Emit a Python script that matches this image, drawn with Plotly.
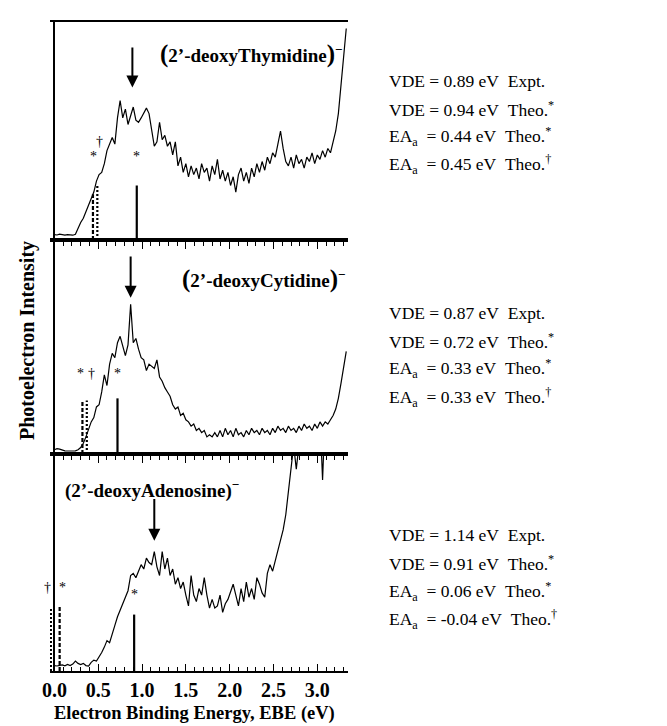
import plotly.graph_objects as go

# ---------------- data ----------------
EBE = [
    0.00, 0.03, 0.06, 0.09, 0.12, 0.15, 0.18, 0.21, 0.24, 0.27,
    0.30, 0.33, 0.36, 0.39, 0.42, 0.45, 0.48, 0.51, 0.54, 0.57,
    0.60, 0.63, 0.66, 0.69, 0.72, 0.75, 0.78, 0.81, 0.84, 0.87,
    0.90, 0.93, 0.96, 0.99, 1.02, 1.05, 1.08, 1.11, 1.14, 1.17,
    1.20, 1.23, 1.26, 1.29, 1.32, 1.35, 1.38, 1.41, 1.44, 1.47,
    1.50, 1.53, 1.56, 1.59, 1.62, 1.65, 1.68, 1.71, 1.74, 1.77,
    1.80, 1.83, 1.86, 1.89, 1.92, 1.95, 1.98, 2.01, 2.04, 2.07,
    2.10, 2.13, 2.16, 2.19, 2.22, 2.25, 2.28, 2.31, 2.34, 2.37,
    2.40, 2.43, 2.46, 2.49, 2.52, 2.55, 2.58, 2.61, 2.64, 2.67,
    2.70, 2.73, 2.76, 2.79, 2.82, 2.85, 2.88, 2.91, 2.94, 2.97,
    3.00, 3.03, 3.06, 3.09, 3.12, 3.15, 3.18, 3.21, 3.24, 3.27,
    3.30, 3.33,
]

THYMIDINE = [
    2.5, 2.3, 2.7, 2.4, 2.2, 2.5, 2.3, 2.2, 2.6, 5.5,
    8, 10, 13, 15.5, 19, 22, 27, 30, 31, 35,
    41, 44, 47, 44, 56, 64, 56, 60, 53, 57,
    61, 55, 54, 56, 58, 60.5, 58, 51, 43, 45,
    54, 46, 48, 43, 45, 39, 45, 34, 38, 31,
    35, 29, 34, 30, 33, 28, 35, 31, 33, 27,
    34, 30, 37, 28, 32, 27, 31, 25, 29, 22,
    30, 33, 27, 31, 26, 33, 29, 35, 31, 36,
    32, 38, 35, 40, 38, 44, 50, 42, 36, 34,
    38, 33, 39, 35, 37, 33, 38, 36, 40, 35,
    39, 37, 41, 38, 42, 40, 45, 50, 58, 70,
    84, 97,
]

CYTIDINE = [
    2.0, 2.5, 2.3, 1.8, 1.5, 1.4, 1.3, 1.4, 1.5, 2.0,
    3, 5, 8, 12, 15, 17, 22, 23, 29, 37,
    32, 42, 47, 45, 52, 55, 50, 46, 51, 70,
    52, 54, 49, 45, 44, 39, 42, 41, 40, 44,
    36, 34, 31, 29, 27, 23, 21, 22, 18, 19,
    16, 15, 13, 14, 11, 12, 10, 11, 8, 9,
    8, 10, 8, 11, 8, 12, 9, 11, 8, 12,
    9, 10, 8, 11, 9, 12, 10, 11, 9, 12,
    10, 11, 9, 12, 10, 13, 11, 12, 10, 13,
    11, 12, 10, 13, 11, 14, 12, 13, 11, 14,
    12, 15, 13, 15, 14, 16, 18, 21, 26, 33,
    40, 48,
]

ADENOSINE = [
    2.5, 2.3, 2.6, 2.8, 2.4, 3.0, 2.5, 3.2, 4.6, 3.5,
    3.0, 3.5, 2.5, 2.3, 4.0, 5.0, 4.6, 6.5, 8.5, 11,
    14, 13, 17.5, 21, 25, 28, 31, 34, 37, 44,
    45, 43, 46, 49, 47, 52, 50, 49, 55, 48,
    44, 55, 47, 52, 44, 47, 40, 43, 38, 41,
    35, 30, 44, 35, 32, 38, 35, 43, 35, 29,
    33, 29, 30, 35, 27, 31, 33, 37, 40, 35,
    30, 38, 32, 41, 34, 38, 33, 43, 40, 36,
    34, 45, 49, 46, 51, 55, 60, 65, 72, 83,
    95, 104, 93, 110, 115, 112, 118, 115, 120, 118,
    120, 118, 88, 120, 122, 120, 125, 122, 125, 125,
    125, 125,
]

SPECTRA = [THYMIDINE, CYTIDINE, ADENOSINE]

VDE_EXPT = [0.89, 0.87, 1.14]          # arrows
VDE_THEO = [0.94, 0.72, 0.91]          # solid sticks (*)
EA_STAR = [0.44, 0.32, 0.06]           # dashed sticks (*)
EA_DAGGER = [0.49, 0.37, -0.04]        # dotted sticks (dagger)
SOLID_H = [25, 26, 26]
DASH_H = [21, 25, 30]
DOT_H = [25, 25, 29]
ARROW_TAIL = [89, 93, 80]
ARROW_TIP = [70, 73, 60]

TEXT_VDE_EXPT = ["0.89", "0.87", "1.14"]
TEXT_VDE_THEO = ["0.94", "0.72", "0.91"]
TEXT_EA_STAR = ["0.44", "0.33", "0.06"]
TEXT_EA_DAGGER = ["0.45", "0.33", "-0.04"]

X_TICKS = [0.0, 0.5, 1.0, 1.5, 2.0, 2.5, 3.0]
X_TICK_TEXT = ["0.0", "0.5", "1.0", "1.5", "2.0", "2.5", "3.0"]

# ---------------- layout helpers ----------------
FIG_W, FIG_H = 667, 726
M_L, M_R, M_T, M_B = 42, 327, 14, 63
PW = FIG_W - M_L - M_R
PH = FIG_H - M_T - M_B


def paper_x(px):
    return (px - M_L) / PW


def paper_y(py):
    return (FIG_H - M_B - py) / PH


SERIF = "Liberation Serif"
DOMAINS = [[paper_y(232), 1.0], [paper_y(446), paper_y(232)], [0.0, paper_y(446)]]

fig = go.Figure()
annotations = []

for i in range(3):
    xa = "x" if i == 0 else f"x{i + 1}"
    ya = "y" if i == 0 else f"y{i + 1}"
    fig.add_trace(go.Scatter(x=EBE, y=SPECTRA[i], xaxis=xa, yaxis=ya, mode="lines",
                             line=dict(color="black", width=1.2), showlegend=False,
                             hoverinfo="skip"))
    fig.add_trace(go.Scatter(x=[VDE_THEO[i], VDE_THEO[i]], y=[0, SOLID_H[i]], xaxis=xa, yaxis=ya,
                             mode="lines", line=dict(color="black", width=2.2), showlegend=False))
    fig.add_trace(go.Scatter(x=[EA_STAR[i], EA_STAR[i]], y=[0, DASH_H[i]], xaxis=xa, yaxis=ya,
                             mode="lines", line=dict(color="black", width=2.2, dash="4px,2px"),
                             showlegend=False))
    fig.add_trace(go.Scatter(x=[EA_DAGGER[i], EA_DAGGER[i]], y=[0, DOT_H[i]], xaxis=xa, yaxis=ya,
                             mode="lines", line=dict(color="black", width=2.2, dash="2px,2px"),
                             showlegend=False))
    annotations.append(dict(x=VDE_EXPT[i], y=ARROW_TIP[i], ax=VDE_EXPT[i], ay=ARROW_TAIL[i],
                            xref=xa, yref=ya, axref=xa, ayref=ya, text="", showarrow=True,
                            arrowhead=2, arrowsize=1.2, arrowwidth=2, arrowcolor="black"))

mark_font = dict(family=SERIF, size=14, color="#000000")
label_specs = [
    (0, EA_STAR[0], 34, "*", 1),
    (0, EA_DAGGER[0], 41, "†", 2),
    (0, VDE_THEO[0], 34, "*", 0),
    (1, EA_STAR[1], 33, "*", -2),
    (1, EA_DAGGER[1], 33, "†", 5),
    (1, VDE_THEO[1], 33, "*", 0),
    (2, EA_DAGGER[2], 34, "†", -3),
    (2, EA_STAR[2], 34, "*", 3),
    (2, VDE_THEO[2], 31, "*", 0),
]
for p, x, y, t, xs in label_specs:
    xa = "x" if p == 0 else f"x{p + 1}"
    ya = "y" if p == 0 else f"y{p + 1}"
    annotations.append(dict(x=x, y=y, xref=xa, yref=ya, text=t, showarrow=False,
                            xshift=xs, font=mark_font, yanchor="bottom"))

title_font = dict(family=SERIF, size=19, color="black", weight="bold")
BIG = "<span style='font-size:25px'>{}</span>"
annotations.append(dict(x=paper_x(150), y=paper_y(46), xref="paper", yref="paper",
                        xanchor="left", yanchor="middle", showarrow=False, font=title_font,
                        text=BIG.format("(") + "2’-deoxyThymidine" + BIG.format(")") + "<sup>−</sup>"))
annotations.append(dict(x=paper_x(172), y=paper_y(271), xref="paper", yref="paper",
                        xanchor="left", yanchor="middle", showarrow=False, font=title_font,
                        text=BIG.format("(") + "2’-deoxyCytidine" + BIG.format(")") + "<sup>−</sup>"))
annotations.append(dict(x=paper_x(55), y=paper_y(481), xref="paper", yref="paper",
                        xanchor="left", yanchor="middle", showarrow=False, font=title_font,
                        text="(2’-deoxyAdenosine)<sup>−</sup>"))

txt_font = dict(family=SERIF, size=17.5, color="black")
NB = "\u00a0"
block_tops = [73, 305, 527]
line_gap = 28
for i in range(3):
    lines = [
        f"VDE = {TEXT_VDE_EXPT[i]} eV{NB}{NB}Expt.",
        f"VDE = {TEXT_VDE_THEO[i]} eV{NB}{NB}Theo.<sup>*</sup>",
        f"EA<sub>a</sub>{NB}{NB}= {TEXT_EA_STAR[i]} eV{NB}{NB}Theo.<sup>*</sup>",
        f"EA<sub>a</sub>{NB}{NB}= {TEXT_EA_DAGGER[i]} eV{NB}{NB}Theo.<sup>†</sup>",
    ]
    for k, line in enumerate(lines):
        annotations.append(dict(x=paper_x(379), y=paper_y(block_tops[i] + k * line_gap),
                                xref="paper", yref="paper", xanchor="left", yanchor="middle",
                                showarrow=False, font=txt_font, text=line))

annotations.append(dict(x=paper_x(19), y=paper_y(333), xref="paper", yref="paper",
                        textangle=-90, showarrow=False,
                        font=dict(family=SERIF, size=20, color="black", weight="bold"),
                        text="Photoelectron Intensity", xanchor="center", yanchor="middle"))
annotations.append(dict(x=paper_x(44), y=paper_y(705), xref="paper", yref="paper",
                        xanchor="left", yanchor="middle", showarrow=False,
                        font=dict(family=SERIF, size=18.5, color="black", weight="bold"),
                        text="Electron Binding Energy, EBE (eV)"))

layout = dict(
    width=FIG_W, height=FIG_H,
    margin=dict(l=M_L, r=M_R, t=M_T, b=M_B, pad=0),
    paper_bgcolor="white", plot_bgcolor="white",
    showlegend=False, annotations=annotations,
)

for i in range(3):
    xkey = "xaxis" if i == 0 else f"xaxis{i + 1}"
    ykey = "yaxis" if i == 0 else f"yaxis{i + 1}"
    ya = "y" if i == 0 else f"y{i + 1}"
    xa = "x" if i == 0 else f"x{i + 1}"
    bottom = i == 2
    layout[xkey] = dict(
        domain=[0, 1], anchor=ya, range=[-0.05, 3.35],
        showline=True, linecolor="black", linewidth=1.5, mirror=True,
        zeroline=True, zerolinecolor="black", zerolinewidth=1.5,
        showgrid=False,
        tickmode="array", tickvals=X_TICKS, ticktext=X_TICK_TEXT,
        ticks="inside" if bottom else "outside", ticklen=7, tickwidth=1.3, tickcolor="black",
        minor=dict(tickmode="linear", tick0=0, dtick=0.1, ticks="inside" if bottom else "outside",
                   ticklen=4, tickwidth=1, tickcolor="black", showgrid=False),
        showticklabels=bottom,
        tickfont=dict(family=SERIF, size=20, color="black", weight="bold"),
    )
    if i > 0:
        layout[xkey]["matches"] = "x"
    layout[ykey] = dict(
        domain=DOMAINS[i], anchor=xa, range=[0, 100],
        showline=False, zeroline=False, showgrid=False, showticklabels=False, ticks="",
    )

fig.update_layout(**layout)
fig.write_html("out.html")
